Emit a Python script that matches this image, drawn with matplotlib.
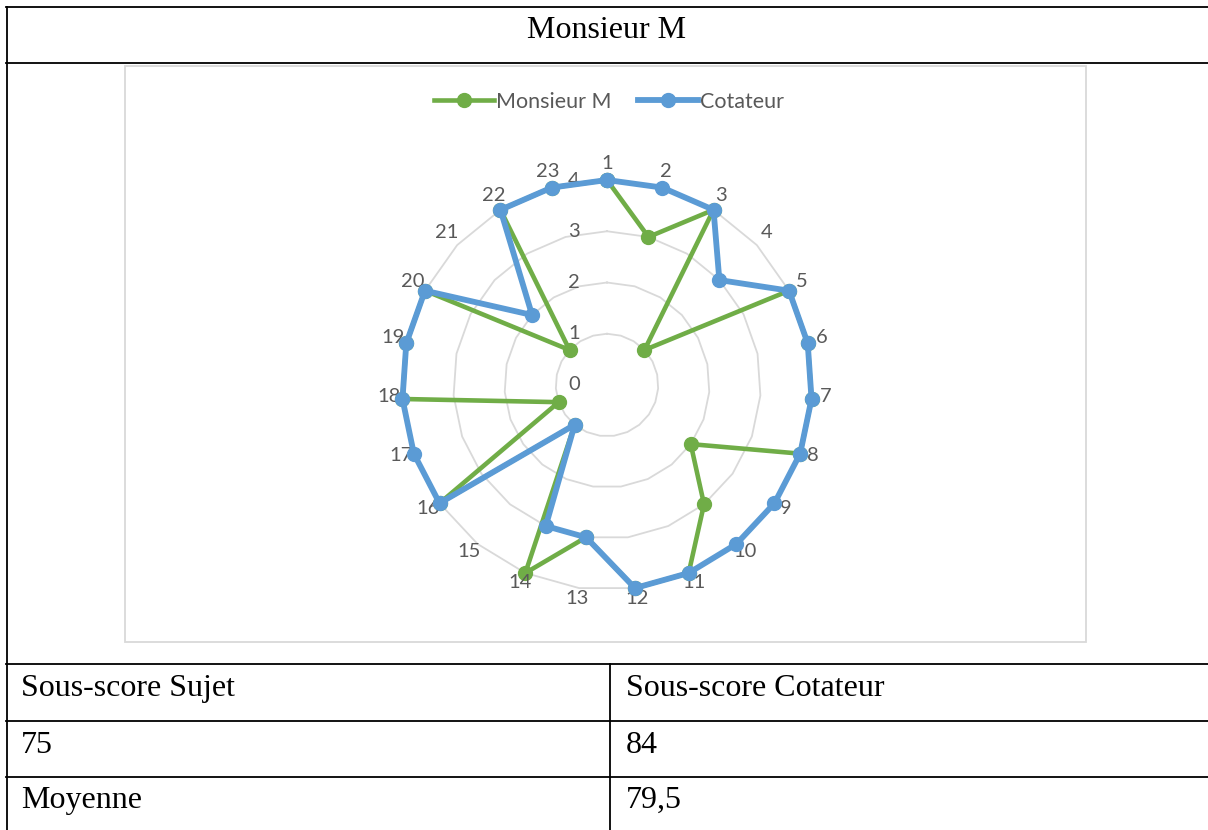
import numpy as np
import matplotlib
matplotlib.use("Agg")
from matplotlib import pyplot as plt
from matplotlib import transforms
from matplotlib.lines import Line2D
from matplotlib.patches import Rectangle

# data (items 1..23, scale 0-4)
items = [str(i) for i in range(1, 24)]
monsieur_m = [4, 3, 4, 1, 4, 4, 4, 4, 2, 3, 4, 4, 3, 4, 1, 4, 1, 4, 4, 4, 1, 4, 4]
cotateur = [4, 4, 4, 3, 4, 4, 4, 4, 4, 4, 4, 4, 3, 3, 1, 4, 4, 4, 4, 4, 2, 4, 4]
rings = [1, 2, 3, 4]
r_labels = [0, 1, 2, 3, 4]

title = "Monsieur M"
header = ["Sous-score Sujet", "Sous-score Cotateur"]
scores = ["75", "84"]
mean_row = ["Moyenne", "79,5"]

W, H = 1208, 830
GREEN = "#70AD47"
BLUE = "#5B9BD5"
GRID = "#D9D9D9"
TXT = "#595959"
SERIF = "Liberation Serif"
SANS = "Lato"


def fx(px):
    return px / W


def fy(py):
    return 1 - py / H


def hline(y, x0=6, x1=W):
    fig.add_artist(Line2D([fx(x0), fx(x1)], [fy(y), fy(y)], transform=fig.transFigure,
                          color="black", lw=1.3))


def vline(x, y0, y1):
    fig.add_artist(Line2D([fx(x), fx(x)], [fy(y0), fy(y1)], transform=fig.transFigure,
                          color="black", lw=1.3))


fig = plt.figure(figsize=(W / 100, H / 100), dpi=100)

# table borders
hline(7)
hline(63)
hline(664)
hline(721)
hline(777)
vline(6.5, 7, H)
vline(610, 664, H)

fig.text(fx(607), fy(38), title, family=SERIF, fontsize=23, ha="center", va="baseline")
for y, row in zip([696, 753, 808], [header, scores, mean_row]):
    fig.text(fx(21), fy(y), row[0], family=SERIF, fontsize=23, va="baseline")
    fig.text(fx(626), fy(y), row[1], family=SERIF, fontsize=23, va="baseline")

# chart area frame
fig.add_artist(Rectangle((fx(125), fy(642)), fx(1086) - fx(125), fy(66) - fy(642),
                         fill=False, edgecolor=GRID, lw=1.3, transform=fig.transFigure))

# radar
cx, cy, rad = 607, 385, 205
ax = fig.add_axes([fx(cx - rad), fy(cy + rad), 2 * rad / W, 2 * rad / H], projection="polar")
ax.set_theta_zero_location("N")
ax.set_theta_direction(-1)
ax.set_ylim(0, 4)
ax.grid(False)
ax.set_xticks([])
ax.set_yticks([])
ax.spines["polar"].set_visible(False)
ax.patch.set_alpha(0)

theta = 2 * np.pi * np.arange(len(items)) / len(items)
theta_c = np.append(theta, theta[0])


def close(vals):
    return np.append(vals, vals[0])


for r in rings:
    ax.plot(theta_c, [r] * len(theta_c), color=GRID, lw=1.3, zorder=1, clip_on=False)

ax.plot(theta_c, close(monsieur_m), color=GREEN, lw=3.3, marker="o", ms=10,
        zorder=3, clip_on=False, label="Monsieur M")
ax.plot(theta_c, close(cotateur), color=BLUE, lw=4.2, marker="o", ms=10,
        zorder=4, clip_on=False, label="Cotateur")

lab_tr = transforms.offset_copy(ax.transData, fig=fig, x=0, y=3, units="dots")
for t, lab in zip(theta, items):
    ax.text(t, 4.27, lab, transform=lab_tr, ha="center", va="center", fontsize=14.5,
            color=TXT, family=SANS, clip_on=False)

rl_tr = transforms.offset_copy(ax.transData, fig=fig, x=-33, y=0, units="dots")
for r in r_labels:
    ax.text(0, r, str(r), transform=rl_tr, ha="center", va="center", fontsize=14.5,
            color=TXT, family=SANS, clip_on=False, zorder=2)

handles, labels = ax.get_legend_handles_labels()
fig.legend(handles, labels, loc="center", bbox_to_anchor=(fx(609), fy(102)), ncol=2,
           frameon=False, prop={"family": SANS, "size": 15.5}, labelcolor=TXT,
           handlelength=2.8, handletextpad=0.1, columnspacing=1.2)

fig.savefig("out.png", dpi=100)
